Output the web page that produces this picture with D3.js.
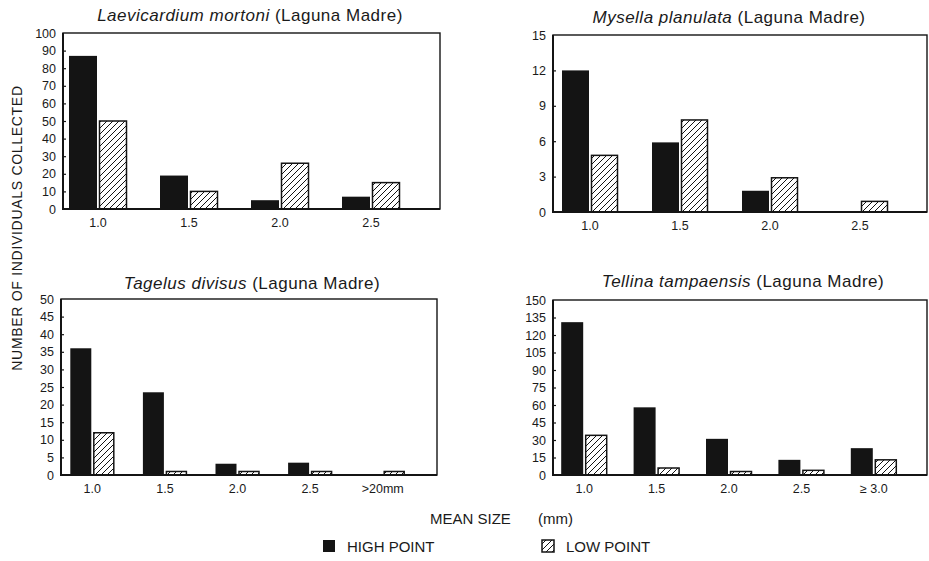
<!DOCTYPE html>
<html>
<head>
<meta charset="utf-8">
<script src="https://cdn.jsdelivr.net/npm/d3@7/dist/d3.min.js"></script>
<style>
body { margin: 0; background: #fff; }
svg { display: block; }
text { font-family: "Liberation Sans", Arial, sans-serif; fill: #1a1a1a; }
</style>
</head>
<body>
<svg id="chart" width="929" height="561"></svg>
<script>
// Size classes (mm) on the x axes
var sizes4 = ["1.0", "1.5", "2.0", "2.5"];
var sizesTagelus = ["1.0", "1.5", "2.0", "2.5", ">20mm"];
var sizesTellina = ["1.0", "1.5", "2.0", "2.5", "\u2265 3.0"];

// Counts: high point / low point
var laevicardiumHigh = [87, 19, 5, 7];
var laevicardiumLow = [50, 10, 26, 15];
var mysellaHigh = [12, 5.9, 1.8, 0];
var mysellaLow = [4.8, 7.8, 2.9, 0.9];
var tagelusHigh = [36, 23.5, 3.2, 3.5, 0];
var tagelusLow = [12, 1, 1, 1, 1];
var tellinaHigh = [131, 58, 31, 13, 23];
var tellinaLow = [34, 6, 3, 4, 13];

// y axis tick values
var ticksLaevicardium = d3.range(0, 101, 10);
var ticksMysella = d3.range(0, 16, 3);
var ticksTagelus = d3.range(0, 51, 5);
var ticksTellina = d3.range(0, 151, 15);

var seriesNames = ["HIGH POINT", "LOW POINT"];

// panel layout (pixel boxes in the page)
var panels = [
    { genus: "Laevicardium mortoni", cats: sizes4, high: laevicardiumHigh, low: laevicardiumLow, ticks: ticksLaevicardium,
      left: 63, right: 440, top: 33, bottom: 209, band: [52.5, 416.5], bw: 28, titleX: 250, titleY: 21 },
    { genus: "Mysella planulata", cats: sizes4, high: mysellaHigh, low: mysellaLow, ticks: ticksMysella,
      left: 553, right: 927, top: 35, bottom: 212, band: [545, 905], bw: 27, titleX: 729, titleY: 23 },
    { genus: "Tagelus divisus", cats: sizesTagelus, high: tagelusHigh, low: tagelusLow, ticks: ticksTagelus,
      left: 61, right: 437, top: 299, bottom: 475, band: [56, 419], bw: 21, titleX: 252, titleY: 289 },
    { genus: "Tellina tampaensis", cats: sizesTellina, high: tellinaHigh, low: tellinaLow, ticks: ticksTellina,
      left: 553, right: 927, top: 300, bottom: 475, band: [548, 910], bw: 22, titleX: 743, titleY: 287 }
];

var ink = "#141414";
var svg = d3.select("#chart");

// diagonal hatch for the low point bars
var pat = svg.append("defs").append("pattern")
    .attr("id", "hatch")
    .attr("patternUnits", "userSpaceOnUse")
    .attr("width", 6).attr("height", 6);
pat.append("rect").attr("width", 6).attr("height", 6).attr("fill", "#fff");
pat.append("path")
    .attr("d", "M-1,1 l2,-2 M0,6 l6,-6 M5,7 l2,-2")
    .attr("stroke", ink).attr("stroke-width", 1);

panels.forEach(function(p) {
    var g = svg.append("g");

    var x = d3.scaleBand().domain(p.cats).range(p.band);
    var y = d3.scaleLinear()
        .domain([0, d3.max(p.ticks)])
        .range([p.bottom, p.top]);

    // title: species name in italics
    var t = g.append("text")
        .attr("x", p.titleX).attr("y", p.titleY)
        .attr("text-anchor", "middle")
        .attr("font-size", 17)
        .attr("letter-spacing", 0.5);
    t.append("tspan").attr("font-style", "italic").text(p.genus);
    t.append("tspan").text(" (Laguna Madre)");

    // bars
    var rows = p.cats.map(function(c, i) { return { cat: c, high: p.high[i], low: p.low[i] }; });

    g.selectAll("rect.high").data(rows.filter(function(d) { return d.high > 0; }))
        .enter().append("rect")
        .attr("class", "high")
        .attr("x", function(d) { return x(d.cat) + x.bandwidth() / 2 - 1 - p.bw; })
        .attr("width", p.bw)
        .attr("y", function(d) { return y(d.high); })
        .attr("height", function(d) { return y(0) - y(d.high); })
        .attr("fill", ink);

    g.selectAll("rect.low").data(rows.filter(function(d) { return d.low > 0; }))
        .enter().append("rect")
        .attr("class", "low")
        .attr("x", function(d) { return x(d.cat) + x.bandwidth() / 2 + 1.5; })
        .attr("width", p.bw - 1)
        .attr("y", function(d) { return y(d.low); })
        .attr("height", function(d) { return y(0) - y(d.low); })
        .attr("fill", "url(#hatch)")
        .attr("stroke", ink).attr("stroke-width", 1.5);

    // frame
    g.append("rect")
        .attr("x", p.left).attr("y", p.top)
        .attr("width", p.right - p.left).attr("height", p.bottom - p.top)
        .attr("fill", "none").attr("stroke", ink).attr("stroke-width", 1.4);
    g.append("path")
        .attr("d", "M" + p.left + "," + p.top + "V" + p.bottom + "H" + p.right)
        .attr("fill", "none").attr("stroke", ink).attr("stroke-width", 2);

    // y axis
    var ya = g.append("g")
        .attr("transform", "translate(" + p.left + ",0)")
        .call(d3.axisLeft(y).tickValues(p.ticks).tickSize(-3).tickPadding(7).tickFormat(d3.format("d")));
    ya.select(".domain").remove();
    ya.selectAll("line").attr("stroke", ink).attr("stroke-width", 1.2);
    ya.selectAll("text").attr("font-size", 12.5).attr("font-family", null).attr("fill", ink);
    ya.selectAll(".tick").filter(function(d) { return d === 0 || d === d3.max(p.ticks); }).select("line").remove();

    // x axis
    var xa = g.append("g")
        .attr("transform", "translate(0," + p.bottom + ")")
        .call(d3.axisBottom(x).tickSize(0).tickPadding(9));
    xa.select(".domain").remove();
    xa.selectAll("text").attr("font-size", 12.5).attr("font-family", null).attr("fill", ink);
});

// shared axis titles
svg.append("text")
    .attr("transform", "translate(22,228) rotate(-90)")
    .attr("text-anchor", "middle")
    .attr("font-size", 14)
    .attr("letter-spacing", 0.7)
    .text("NUMBER OF INDIVIDUALS COLLECTED");

svg.append("text").attr("x", 430).attr("y", 524).attr("font-size", 15).text("MEAN SIZE");
svg.append("text").attr("x", 538).attr("y", 524).attr("font-size", 15).text("(mm)");

// legend
var legend = svg.append("g");
var legendX = [323, 542];
seriesNames.forEach(function(name, i) {
    legend.append("rect")
        .attr("x", legendX[i]).attr("y", 540)
        .attr("width", 12).attr("height", 12)
        .attr("fill", i === 0 ? ink : "url(#hatch)")
        .attr("stroke", ink).attr("stroke-width", i === 0 ? 0 : 1.5);
    legend.append("text")
        .attr("x", legendX[i] + 24).attr("y", 552)
        .attr("font-size", 15)
        .text(name);
});
</script>
</body>
</html>
